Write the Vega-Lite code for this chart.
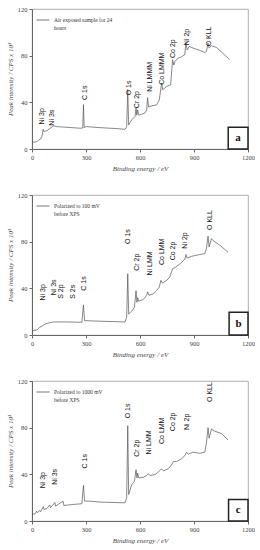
{
  "$schema": "https://vega.github.io/schema/vega-lite/v6.json",
  "padding": {"left": 5, "top": 5, "right": 0, "bottom": 0},
  "spacing": 19,
  "config": {
    "view": {"stroke": "#999", "strokeWidth": 0.8},
    "axis": {
      "grid": false,
      "labelFont": "Liberation Serif",
      "labelFontSize": 6.5,
      "labelColor": "#444",
      "titleFont": "Liberation Serif",
      "titleFontStyle": "italic",
      "titleFontWeight": "normal",
      "titleFontSize": 7,
      "titleColor": "#444",
      "domainColor": "#666",
      "tickColor": "#666",
      "tickSize": 3,
      "labelPadding": 2,
      "labelOverlap": false,
      "labelFlush": false,
      "format": "d"
    },
    "axisY": {"titlePadding": 4}
  },
  "resolve": {"scale": {"color": "independent"}, "legend": {"color": "independent"}},
  "datasets": {
    "spec": [
      {"panel":"a","energy":0,"intensity":5.7},{"panel":"a","energy":28,"intensity":6.3},{"panel":"a","energy":37,"intensity":7.7},{"panel":"a","energy":46,"intensity":8.3},{"panel":"a","energy":55,"intensity":10.6},{"panel":"a","energy":62,"intensity":17},{"panel":"a","energy":66,"intensity":15},{"panel":"a","energy":83,"intensity":15.7},{"panel":"a","energy":101,"intensity":17.8},{"panel":"a","energy":120,"intensity":19.8},{"panel":"a","energy":138,"intensity":19.2},{"panel":"a","energy":194,"intensity":18.6},{"panel":"a","energy":268,"intensity":17.8},{"panel":"a","energy":282,"intensity":18},{"panel":"a","energy":286,"intensity":38},{"panel":"a","energy":290,"intensity":18.3},{"panel":"a","energy":301,"intensity":19.2},{"panel":"a","energy":378,"intensity":18.3},{"panel":"a","energy":471,"intensity":17.5},{"panel":"a","energy":517,"intensity":16.9},{"panel":"a","energy":526,"intensity":19},{"panel":"a","energy":532,"intensity":51},{"panel":"a","energy":537,"intensity":20.6},{"panel":"a","energy":554,"intensity":25},{"panel":"a","energy":572,"intensity":27.8},{"panel":"a","energy":578,"intensity":35},{"panel":"a","energy":582,"intensity":29},{"panel":"a","energy":587,"intensity":33.5},{"panel":"a","energy":593,"intensity":29},{"panel":"a","energy":609,"intensity":29.8},{"panel":"a","energy":628,"intensity":31},{"panel":"a","energy":637,"intensity":33.5},{"panel":"a","energy":642,"intensity":44},{"panel":"a","energy":648,"intensity":36},{"panel":"a","energy":665,"intensity":37},{"panel":"a","energy":692,"intensity":37.8},{"panel":"a","energy":707,"intensity":42},{"panel":"a","energy":720,"intensity":56.4},{"panel":"a","energy":726,"intensity":50.7},{"panel":"a","energy":748,"intensity":53.6},{"panel":"a","energy":770,"intensity":55},{"panel":"a","energy":781,"intensity":76.5},{"panel":"a","energy":788,"intensity":72},{"panel":"a","energy":794,"intensity":75},{"panel":"a","energy":812,"intensity":78},{"panel":"a","energy":831,"intensity":79},{"panel":"a","energy":849,"intensity":81},{"panel":"a","energy":855,"intensity":91.4},{"panel":"a","energy":862,"intensity":85},{"panel":"a","energy":873,"intensity":88},{"panel":"a","energy":895,"intensity":86.5},{"panel":"a","energy":932,"intensity":84.5},{"panel":"a","energy":960,"intensity":82.8},{"panel":"a","energy":969,"intensity":83.6},{"panel":"a","energy":978,"intensity":90.8},{"panel":"a","energy":984,"intensity":86.5},{"panel":"a","energy":997,"intensity":88.5},{"panel":"a","energy":1025,"intensity":87},{"panel":"a","energy":1061,"intensity":82},{"panel":"a","energy":1098,"intensity":76.5},
      {"panel":"b","energy":0,"intensity":3.7},{"panel":"b","energy":28,"intensity":4.3},{"panel":"b","energy":42,"intensity":6.6},{"panel":"b","energy":55,"intensity":7.5},{"panel":"b","energy":74,"intensity":9.5},{"panel":"b","energy":92,"intensity":10.3},{"panel":"b","energy":120,"intensity":11.2},{"panel":"b","energy":194,"intensity":11.2},{"panel":"b","energy":277,"intensity":10.9},{"panel":"b","energy":286,"intensity":25.8},{"panel":"b","energy":292,"intensity":12.3},{"panel":"b","energy":378,"intensity":11.8},{"panel":"b","energy":517,"intensity":11.2},{"panel":"b","energy":526,"intensity":15.2},{"panel":"b","energy":532,"intensity":52.5},{"panel":"b","energy":537,"intensity":18},{"panel":"b","energy":554,"intensity":20.4},{"panel":"b","energy":569,"intensity":23.8},{"panel":"b","energy":578,"intensity":38},{"panel":"b","energy":583,"intensity":28},{"panel":"b","energy":587,"intensity":32},{"panel":"b","energy":593,"intensity":29},{"panel":"b","energy":618,"intensity":30.4},{"panel":"b","energy":637,"intensity":34},{"panel":"b","energy":642,"intensity":37},{"panel":"b","energy":650,"intensity":34},{"panel":"b","energy":674,"intensity":35.3},{"panel":"b","energy":692,"intensity":38},{"panel":"b","energy":707,"intensity":41},{"panel":"b","energy":716,"intensity":46.8},{"panel":"b","energy":724,"intensity":44.5},{"panel":"b","energy":748,"intensity":46.8},{"panel":"b","energy":766,"intensity":49.7},{"panel":"b","energy":775,"intensity":54},{"panel":"b","energy":781,"intensity":56.8},{"panel":"b","energy":794,"intensity":57.7},{"panel":"b","energy":822,"intensity":61},{"panel":"b","energy":849,"intensity":64.9},{"panel":"b","energy":855,"intensity":69},{"panel":"b","energy":862,"intensity":66},{"panel":"b","energy":886,"intensity":67.4},{"panel":"b","energy":932,"intensity":69},{"panel":"b","energy":960,"intensity":69.7},{"panel":"b","energy":969,"intensity":74},{"panel":"b","energy":978,"intensity":84.7},{"panel":"b","energy":984,"intensity":75.5},{"panel":"b","energy":997,"intensity":82.6},{"panel":"b","energy":1006,"intensity":81},{"panel":"b","energy":1043,"intensity":77},{"panel":"b","energy":1089,"intensity":71},
      {"panel":"c","energy":0,"intensity":5.7},{"panel":"c","energy":18,"intensity":6.2},{"panel":"c","energy":26,"intensity":8.5},{"panel":"c","energy":30,"intensity":7.2},{"panel":"c","energy":44,"intensity":9},{"panel":"c","energy":48,"intensity":7.9},{"panel":"c","energy":63,"intensity":12.4},{"panel":"c","energy":67,"intensity":9.9},{"panel":"c","energy":83,"intensity":10.8},{"panel":"c","energy":99,"intensity":13.8},{"panel":"c","energy":103,"intensity":11.3},{"panel":"c","energy":127,"intensity":15.9},{"panel":"c","energy":131,"intensity":12.8},{"panel":"c","energy":173,"intensity":17},{"panel":"c","energy":177,"intensity":13.3},{"panel":"c","energy":231,"intensity":14.2},{"panel":"c","energy":277,"intensity":14.8},{"panel":"c","energy":286,"intensity":30.6},{"panel":"c","energy":292,"intensity":17},{"panel":"c","energy":323,"intensity":17},{"panel":"c","energy":378,"intensity":16.2},{"panel":"c","energy":517,"intensity":15.6},{"panel":"c","energy":526,"intensity":19.9},{"panel":"c","energy":532,"intensity":81.7},{"panel":"c","energy":537,"intensity":22.7},{"panel":"c","energy":554,"intensity":31.2},{"panel":"c","energy":569,"intensity":34},{"panel":"c","energy":578,"intensity":44},{"panel":"c","energy":583,"intensity":36.9},{"panel":"c","energy":587,"intensity":41},{"panel":"c","energy":593,"intensity":36.9},{"panel":"c","energy":618,"intensity":37.4},{"panel":"c","energy":637,"intensity":38.9},{"panel":"c","energy":646,"intensity":40.6},{"panel":"c","energy":655,"intensity":39},{"panel":"c","energy":683,"intensity":39.7},{"panel":"c","energy":701,"intensity":42},{"panel":"c","energy":720,"intensity":44.8},{"panel":"c","energy":729,"intensity":43},{"panel":"c","energy":757,"intensity":44.8},{"panel":"c","energy":775,"intensity":48},{"panel":"c","energy":785,"intensity":51},{"panel":"c","energy":803,"intensity":51},{"panel":"c","energy":831,"intensity":53.3},{"panel":"c","energy":849,"intensity":56},{"panel":"c","energy":858,"intensity":59},{"panel":"c","energy":868,"intensity":57.3},{"panel":"c","energy":895,"intensity":59},{"panel":"c","energy":932,"intensity":58},{"panel":"c","energy":960,"intensity":59},{"panel":"c","energy":969,"intensity":66.7},{"panel":"c","energy":978,"intensity":80},{"panel":"c","energy":984,"intensity":71},{"panel":"c","energy":997,"intensity":78.9},{"panel":"c","energy":1015,"intensity":77},{"panel":"c","energy":1052,"intensity":75},{"panel":"c","energy":1089,"intensity":69.5}
    ],
    "labels": [
      {"panel":"a","label":"Ni 3p","energy":56,"intensity":21},{"panel":"a","label":"Ni 3s","energy":111,"intensity":20},{"panel":"a","label":"C 1s","energy":294,"intensity":42},{"panel":"a","label":"O 1s","energy":539,"intensity":46},{"panel":"a","label":"Cr 2p","energy":583,"intensity":35},{"panel":"a","label":"Ni LMMM","energy":656,"intensity":49},{"panel":"a","label":"Co LMMM","energy":722,"intensity":55},{"panel":"a","label":"Co 2p","energy":783,"intensity":78},{"panel":"a","label":"Ni 2p","energy":861,"intensity":89},{"panel":"a","label":"O KLL","energy":983,"intensity":88},
      {"panel":"b","label":"Ni 3p","energy":61,"intensity":29.6},{"panel":"b","label":"Ni 3s","energy":123,"intensity":34},{"panel":"b","label":"S 2p","energy":161,"intensity":31},{"panel":"b","label":"S 2s","energy":228,"intensity":31},{"panel":"b","label":"C 1s","energy":289,"intensity":38},{"panel":"b","label":"O 1s","energy":533,"intensity":78},{"panel":"b","label":"Cr 2p","energy":583,"intensity":55},{"panel":"b","label":"Ni LMM","energy":656,"intensity":51},{"panel":"b","label":"Co LMM","energy":720,"intensity":60},{"panel":"b","label":"Co 2p","energy":783,"intensity":64},{"panel":"b","label":"Ni 2p","energy":850,"intensity":74},{"panel":"b","label":"O KLL","energy":989,"intensity":90},
      {"panel":"c","label":"Ni 3p","energy":61,"intensity":28},{"panel":"c","label":"Ni 3s","energy":128,"intensity":31},{"panel":"c","label":"C 1s","energy":294,"intensity":45},{"panel":"c","label":"O 1s","energy":533,"intensity":88},{"panel":"c","label":"Cr 2p","energy":583,"intensity":55},{"panel":"c","label":"Ni LMM","energy":650,"intensity":57},{"panel":"c","label":"Co LMM","energy":720,"intensity":66},{"panel":"c","label":"Co 2p","energy":783,"intensity":77},{"panel":"c","label":"Ni 2p","energy":861,"intensity":78},{"panel":"c","label":"O KLL","energy":989,"intensity":102}
    ],
    "boxes": [
      {"panel":"a","letter":"a","x1":1090,"x2":1200,"y1":0,"y2":18.6,"xc":1145,"yc":9.3},
      {"panel":"b","letter":"b","x1":1095,"x2":1200,"y1":0,"y2":19.5,"xc":1147,"yc":9.7},
      {"panel":"c","letter":"c","x1":1092,"x2":1200,"y1":0,"y2":18.4,"xc":1146,"yc":9.2}
    ]
  },
  "vconcat": [
    {
      "width": 216, "height": 140,
      "layer": [
        {"data": {"name": "spec"}, "transform": [{"filter": "datum.panel == 'a'"}],
         "mark": {"type": "line", "strokeWidth": 0.7},
         "encoding": {
           "x": {"field": "energy", "type": "quantitative", "scale": {"domain": [0, 1200], "nice": false},
                 "axis": {"title": "Binding energy / eV", "values": [0, 300, 600, 900, 1200]}},
           "y": {"field": "intensity", "type": "quantitative", "scale": {"domain": [0, 120], "nice": false},
                 "axis": {"title": "Peak intensity / CPS x 10³", "values": [0, 20, 40, 60, 80, 100, 120]}},
           "color": {"datum": "Air exposed sample for 24 hours", "type": "nominal", "scale": {"range": ["#555555"]},
                     "legend": {"orient": "top-left", "title": null, "symbolType": "stroke", "symbolSize": 170, "symbolStrokeWidth": 0.8, "labelFont": "Liberation Serif", "labelFontSize": 5.5, "labelColor": "#333", "labelExpr": "['Air exposed sample for 24', 'hours']", "padding": 0, "offset": 4, "labelOffset": 4}}
         }},
        {"data": {"name": "labels"}, "transform": [{"filter": "datum.panel == 'a'"}],
         "mark": {"type": "text", "angle": 270, "align": "left", "baseline": "middle", "font": "Liberation Sans", "fontSize": 7, "color": "#111"},
         "encoding": {"x": {"field": "energy", "type": "quantitative"}, "y": {"field": "intensity", "type": "quantitative"}, "text": {"field": "label"}}},
        {"data": {"name": "boxes"}, "transform": [{"filter": "datum.panel == 'a'"}],
         "mark": {"type": "rect", "fill": "white", "stroke": "#222", "strokeWidth": 1.5},
         "encoding": {"x": {"field": "x1", "type": "quantitative"}, "x2": {"field": "x2"}, "y": {"field": "y1", "type": "quantitative"}, "y2": {"field": "y2"}}},
        {"data": {"name": "boxes"}, "transform": [{"filter": "datum.panel == 'a'"}],
         "mark": {"type": "text", "font": "Liberation Serif", "fontWeight": "bold", "fontSize": 11, "color": "#111"},
         "encoding": {"x": {"field": "xc", "type": "quantitative"}, "y": {"field": "yc", "type": "quantitative"}, "text": {"field": "letter"}}}
      ]
    },
    {
      "width": 216, "height": 140,
      "layer": [
        {"data": {"name": "spec"}, "transform": [{"filter": "datum.panel == 'b'"}],
         "mark": {"type": "line", "strokeWidth": 0.7},
         "encoding": {
           "x": {"field": "energy", "type": "quantitative", "scale": {"domain": [0, 1200], "nice": false},
                 "axis": {"title": "Binding energy / eV", "values": [0, 300, 600, 900, 1200]}},
           "y": {"field": "intensity", "type": "quantitative", "scale": {"domain": [0, 120], "nice": false},
                 "axis": {"title": "Peak intensity / CPS x 10³", "values": [0, 20, 40, 60, 80, 100, 120]}},
           "color": {"datum": "Polarized to 100 mV before XPS", "type": "nominal", "scale": {"range": ["#555555"]},
                     "legend": {"orient": "top-left", "title": null, "symbolType": "stroke", "symbolSize": 170, "symbolStrokeWidth": 0.8, "labelFont": "Liberation Serif", "labelFontSize": 5.5, "labelColor": "#333", "labelExpr": "['Polarized to 100 mV', 'before XPS']", "padding": 0, "offset": 4, "labelOffset": 4}}
         }},
        {"data": {"name": "labels"}, "transform": [{"filter": "datum.panel == 'b'"}],
         "mark": {"type": "text", "angle": 270, "align": "left", "baseline": "middle", "font": "Liberation Sans", "fontSize": 7, "color": "#111"},
         "encoding": {"x": {"field": "energy", "type": "quantitative"}, "y": {"field": "intensity", "type": "quantitative"}, "text": {"field": "label"}}},
        {"data": {"name": "boxes"}, "transform": [{"filter": "datum.panel == 'b'"}],
         "mark": {"type": "rect", "fill": "white", "stroke": "#222", "strokeWidth": 1.5},
         "encoding": {"x": {"field": "x1", "type": "quantitative"}, "x2": {"field": "x2"}, "y": {"field": "y1", "type": "quantitative"}, "y2": {"field": "y2"}}},
        {"data": {"name": "boxes"}, "transform": [{"filter": "datum.panel == 'b'"}],
         "mark": {"type": "text", "font": "Liberation Serif", "fontWeight": "bold", "fontSize": 11, "color": "#111"},
         "encoding": {"x": {"field": "xc", "type": "quantitative"}, "y": {"field": "yc", "type": "quantitative"}, "text": {"field": "letter"}}}
      ]
    },
    {
      "width": 216, "height": 140,
      "layer": [
        {"data": {"name": "spec"}, "transform": [{"filter": "datum.panel == 'c'"}],
         "mark": {"type": "line", "strokeWidth": 0.7},
         "encoding": {
           "x": {"field": "energy", "type": "quantitative", "scale": {"domain": [0, 1200], "nice": false},
                 "axis": {"title": "Binding energy / eV", "values": [0, 300, 600, 900, 1200]}},
           "y": {"field": "intensity", "type": "quantitative", "scale": {"domain": [0, 120], "nice": false},
                 "axis": {"title": "Peak intensity / CPS x 10³", "values": [0, 20, 40, 60, 80, 100, 120]}},
           "color": {"datum": "Polarized to 1000 mV before XPS", "type": "nominal", "scale": {"range": ["#555555"]},
                     "legend": {"orient": "top-left", "title": null, "symbolType": "stroke", "symbolSize": 170, "symbolStrokeWidth": 0.8, "labelFont": "Liberation Serif", "labelFontSize": 5.5, "labelColor": "#333", "labelExpr": "['Polarized to 1000 mV', 'before XPS']", "padding": 0, "offset": 4, "labelOffset": 4}}
         }},
        {"data": {"name": "labels"}, "transform": [{"filter": "datum.panel == 'c'"}],
         "mark": {"type": "text", "angle": 270, "align": "left", "baseline": "middle", "font": "Liberation Sans", "fontSize": 7, "color": "#111"},
         "encoding": {"x": {"field": "energy", "type": "quantitative"}, "y": {"field": "intensity", "type": "quantitative"}, "text": {"field": "label"}}},
        {"data": {"name": "boxes"}, "transform": [{"filter": "datum.panel == 'c'"}],
         "mark": {"type": "rect", "fill": "white", "stroke": "#222", "strokeWidth": 1.5},
         "encoding": {"x": {"field": "x1", "type": "quantitative"}, "x2": {"field": "x2"}, "y": {"field": "y1", "type": "quantitative"}, "y2": {"field": "y2"}}},
        {"data": {"name": "boxes"}, "transform": [{"filter": "datum.panel == 'c'"}],
         "mark": {"type": "text", "font": "Liberation Serif", "fontWeight": "bold", "fontSize": 11, "color": "#111"},
         "encoding": {"x": {"field": "xc", "type": "quantitative"}, "y": {"field": "yc", "type": "quantitative"}, "text": {"field": "letter"}}}
      ]
    }
  ]
}
